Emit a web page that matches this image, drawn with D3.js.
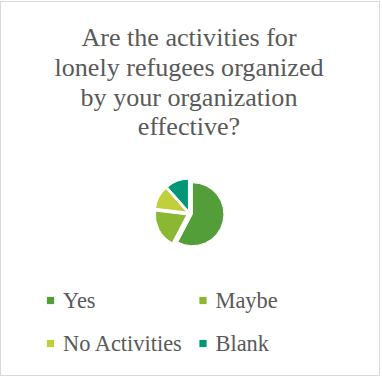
<!DOCTYPE html>
<html>
<head>
<meta charset="utf-8">
<script src="https://cdn.jsdelivr.net/npm/d3@7"></script>
<style>
  html, body { margin: 0; padding: 0; background: #fff; }
  svg { display: block; }
  svg text { font-family: "Liberation Serif", Tinos, "Times New Roman", Times, "DejaVu Serif", serif; }
</style>
</head>
<body>
<svg id="chart" width="382" height="384"></svg>
<script>
const titleLines = ["Are the activities for", "lonely refugees organized", "by your organization", "effective?"];
const categories = ["Yes", "Maybe", "No Activities", "Blank"];
const values = [15, 5, 3, 3];
const colors = ["#549E39", "#8AB833", "#C0CF3A", "#029676"];

const svg = d3.select("#chart");

svg.append("rect")
  .attr("x", 0.5).attr("y", 1.5)
  .attr("width", 379).attr("height", 374)
  .attr("fill", "#fff")
  .attr("stroke", "#d9d9d9").attr("stroke-width", 1);

svg.append("g").selectAll("text")
  .data(titleLines)
  .join("text")
  .attr("x", 189)
  .attr("y", (d, i) => 46 + i * 29.8)
  .attr("text-anchor", "middle")
  .style("font-size", "26.1px")
  .attr("fill", "#595959")
  .text(d => d);

const cx = 189.5, cy = 213.5, r = 31.5, explode = 3;
const pie = d3.pie().sort(null).value(d => d.v);
const arcs = pie(categories.map((c, i) => ({c, v: values[i]})));
const arc = d3.arc().innerRadius(0).outerRadius(r);

svg.append("g")
  .attr("transform", `translate(${cx},${cy})`)
  .selectAll("path")
  .data(arcs)
  .join("path")
  .attr("d", arc)
  .attr("transform", d => {
    const a = (d.startAngle + d.endAngle) / 2;
    return `translate(${explode * Math.sin(a)},${-explode * Math.cos(a)})`;
  })
  .attr("fill", (d, i) => colors[i])
  .attr("stroke", "#fff")
  .attr("stroke-width", 1);

const legX = d3.scaleOrdinal().domain([0, 1]).range([50.5, 203]);
const legY = d3.scaleOrdinal().domain([0, 1]).range([300.5, 343.5]);
const leg = svg.append("g").selectAll("g")
  .data(categories)
  .join("g")
  .attr("transform", (d, i) => `translate(${legX(i % 2)},${legY(Math.floor(i / 2))})`);
leg.append("rect")
  .attr("x", -3.6).attr("y", -3.6)
  .attr("width", 7.2).attr("height", 7.2)
  .attr("fill", (d, i) => colors[i]);
leg.append("text")
  .attr("x", 12.5)
  .attr("y", 7.5)
  .style("font-size", "22.4px")
  .attr("fill", "#595959")
  .text(d => d);
</script>
</body>
</html>
